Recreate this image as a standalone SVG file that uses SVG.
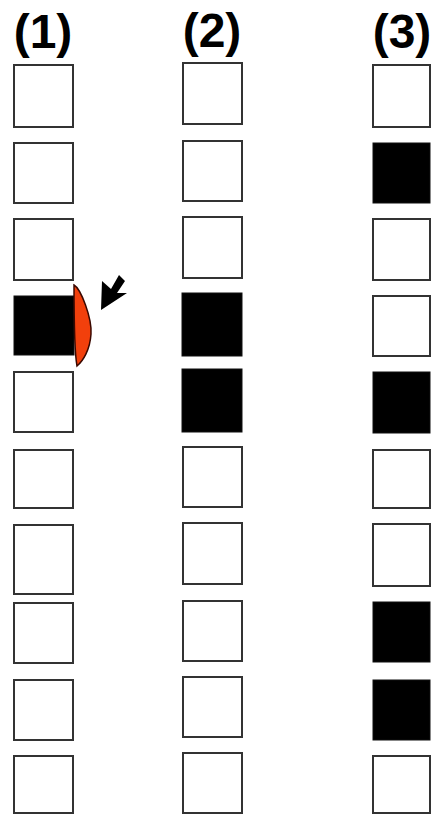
<svg xmlns="http://www.w3.org/2000/svg" width="435" height="814" viewBox="0 0 435 814">
<style>
.lbl{font-family:"Liberation Sans",Arial,sans-serif;font-weight:bold;font-size:48px;fill:#000;text-anchor:middle}
.w{fill:#fff;stroke:#333;stroke-width:2}
.b{fill:#000;stroke:#111;stroke-width:1}
</style>
<rect width="435" height="814" fill="#fff"/>
<g id="labels">
<text class="lbl" x="43" y="48">(1)</text>
<text class="lbl" x="212" y="47">(2)</text>
<text class="lbl" x="402" y="48">(3)</text>
</g>
<g id="col1">
<rect id="c1r1" class="w" x="14" y="65" width="59" height="62"/>
<rect id="c1r2" class="w" x="14" y="143" width="59" height="60"/>
<rect id="c1r3" class="w" x="14" y="219" width="59" height="61"/>
<rect id="c1r4" class="b" x="14" y="296" width="60" height="59"/>
<rect id="c1r5" class="w" x="14" y="372" width="59" height="60"/>
<rect id="c1r6" class="w" x="14" y="450" width="59" height="58"/>
<rect id="c1r7" class="w" x="14" y="525" width="59" height="69"/>
<rect id="c1r8" class="w" x="14" y="603" width="59" height="60"/>
<rect id="c1r9" class="w" x="14" y="680" width="59" height="60"/>
<rect id="c1r10" class="w" x="14" y="756" width="59" height="57"/>
</g>
<g id="col2">
<rect id="c2r1" class="w" x="183" y="63" width="59" height="61"/>
<rect id="c2r2" class="w" x="183" y="141" width="59" height="60"/>
<rect id="c2r3" class="w" x="183" y="217" width="59" height="61"/>
<rect id="c2r4" class="b" x="182" y="293" width="60" height="63"/>
<rect id="c2r5" class="b" x="182" y="369" width="60" height="63"/>
<rect id="c2r6" class="w" x="183" y="447" width="59" height="60"/>
<rect id="c2r7" class="w" x="183" y="523" width="59" height="61"/>
<rect id="c2r8" class="w" x="183" y="601" width="59" height="60"/>
<rect id="c2r9" class="w" x="183" y="677" width="59" height="60"/>
<rect id="c2r10" class="w" x="183" y="753" width="59" height="60"/>
</g>
<g id="col3">
<rect id="c3r1" class="w" x="373" y="65" width="57" height="62"/>
<rect id="c3r2" class="b" x="373" y="143" width="57" height="60"/>
<rect id="c3r3" class="w" x="373" y="219" width="57" height="61"/>
<rect id="c3r4" class="w" x="373" y="296" width="57" height="60"/>
<rect id="c3r5" class="b" x="373" y="372" width="57" height="61"/>
<rect id="c3r6" class="w" x="373" y="450" width="57" height="58"/>
<rect id="c3r7" class="w" x="373" y="524" width="57" height="62"/>
<rect id="c3r8" class="b" x="373" y="602" width="57" height="60"/>
<rect id="c3r9" class="b" x="373" y="680" width="57" height="60"/>
<rect id="c3r10" class="w" x="373" y="756" width="57" height="57"/>
</g>
<g id="marker">
<path id="red-cap" d="M74,285 C81,289 92,318 91,334 C90,350 83,361 77,366 C74,350 74,300 74,285 Z" fill="#f2400c" stroke="#3a0800" stroke-width="1.5"/>
</g>
<g id="connectors">
<polygon id="arrow" points="101,310 102,281 111,289 119,275 125,281 117,293 127,293" fill="#000"/>
</g>
</svg>
